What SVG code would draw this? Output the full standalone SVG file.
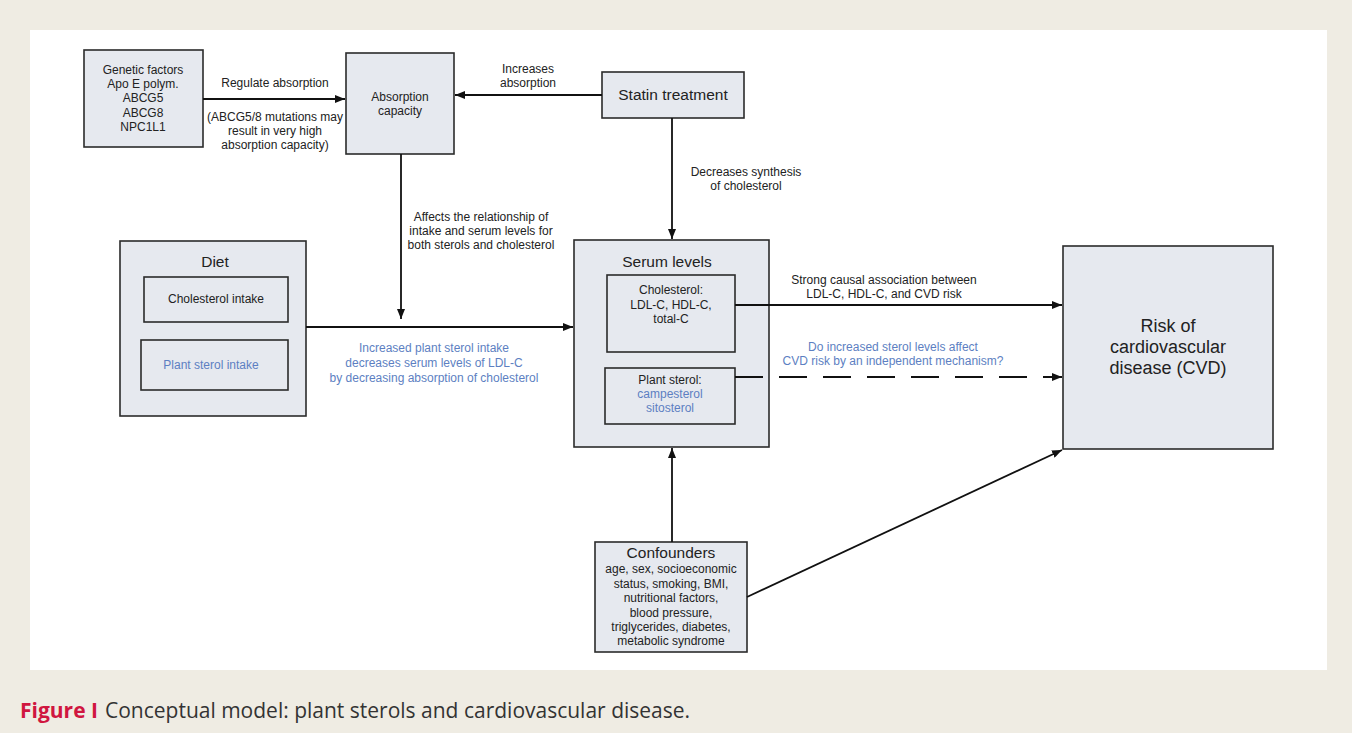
<svg xmlns="http://www.w3.org/2000/svg" width="1352" height="733" viewBox="0 0 1352 733">
<style>
.box{fill:#e6e9ef;stroke:#2b2b2b;stroke-width:1.6}
.t{font-family:"Liberation Sans",Arial,sans-serif;fill:#222;text-anchor:middle}
.s{font-size:12px}
.m{font-size:15.5px}
.b{fill:#5d7fc2}
.ln{stroke:#111;stroke-width:1.8;fill:none}
</style>
<defs>
<marker id="ah" markerWidth="10" markerHeight="8" refX="10" refY="4" orient="auto" markerUnits="userSpaceOnUse">
<path d="M0,0 L10,4 L0,8 Z" fill="#111"/>
</marker>
</defs>
<rect x="0" y="0" width="1352" height="733" fill="#efece3"/>
<rect x="30" y="30" width="1297" height="640" fill="#ffffff"/>

<g id="genetic">
<rect class="box" x="84" y="50" width="119" height="97"/>
<text class="t s" x="143" y="74">Genetic factors</text>
<text class="t s" x="143" y="88">Apo E polym.</text>
<text class="t s" x="143" y="102">ABCG5</text>
<text class="t s" x="143" y="117">ABCG8</text>
<text class="t s" x="143" y="131">NPC1L1</text>
</g>

<g id="absorption">
<rect class="box" x="346" y="53" width="108" height="101"/>
<text class="t s" x="400" y="101">Absorption</text>
<text class="t s" x="400" y="115">capacity</text>
</g>

<g id="statin">
<rect class="box" x="602" y="72" width="142" height="46"/>
<text class="t m" x="673" y="100">Statin treatment</text>
</g>

<g id="diet">
<rect class="box" x="120" y="241" width="186" height="175"/>
<text class="t m" x="215" y="267">Diet</text>
<rect class="box" x="144" y="277" width="144" height="45"/>
<text class="t s" x="216" y="303">Cholesterol intake</text>
<rect class="box" x="141" y="340" width="147" height="50"/>
<text class="t s b" x="211" y="369">Plant sterol intake</text>
</g>

<g id="serum">
<rect class="box" x="574" y="240" width="195" height="207"/>
<text class="t m" x="667" y="267">Serum levels</text>
<rect class="box" x="607" y="275" width="128" height="77"/>
<text class="t s" x="671" y="294">Cholesterol:</text>
<text class="t s" x="671" y="309">LDL-C, HDL-C,</text>
<text class="t s" x="671" y="323">total-C</text>
<rect class="box" x="605" y="368" width="130" height="56"/>
<text class="t s" x="670" y="384">Plant sterol:</text>
<text class="t s b" x="670" y="398">campesterol</text>
<text class="t s b" x="670" y="412">sitosterol</text>
</g>

<g id="risk">
<rect class="box" x="1063" y="246" width="210" height="203"/>
<text class="t" font-size="18" x="1168" y="332">Risk of</text>
<text class="t" font-size="18" x="1168" y="353">cardiovascular</text>
<text class="t" font-size="18" x="1168" y="374">disease (CVD)</text>
</g>

<g id="confounders">
<rect class="box" x="595" y="542" width="152" height="110"/>
<text class="t m" x="671" y="558">Confounders</text>
<text class="t s" x="671" y="573">age, sex, socioeconomic</text>
<text class="t s" x="671" y="588">status, smoking, BMI,</text>
<text class="t s" x="671" y="602">nutritional factors,</text>
<text class="t s" x="671" y="617">blood pressure,</text>
<text class="t s" x="671" y="631">triglycerides, diabetes,</text>
<text class="t s" x="671" y="645">metabolic syndrome</text>
</g>

<g id="connectors">
<line class="ln" x1="203" y1="99" x2="345" y2="99" marker-end="url(#ah)"/>
<line class="ln" x1="602" y1="95" x2="455" y2="95" marker-end="url(#ah)"/>
<line class="ln" x1="672" y1="118" x2="672" y2="239" marker-end="url(#ah)"/>
<line class="ln" x1="401" y1="154" x2="401" y2="319" marker-end="url(#ah)"/>
<line class="ln" x1="306" y1="327" x2="573" y2="327" marker-end="url(#ah)"/>
<line class="ln" x1="735" y1="305" x2="1062" y2="305" marker-end="url(#ah)"/>
<line class="ln" x1="735" y1="377" x2="1062" y2="377" stroke-dasharray="28,16" marker-end="url(#ah)"/>
<line class="ln" x1="672" y1="542" x2="672" y2="448" marker-end="url(#ah)"/>
<line class="ln" x1="747" y1="597" x2="1062" y2="450" marker-end="url(#ah)"/>
<text class="t s" x="275" y="87">Regulate absorption</text>
<text class="t s" x="275" y="121">(ABCG5/8 mutations may</text>
<text class="t s" x="275" y="135">result in very high</text>
<text class="t s" x="275" y="149">absorption capacity)</text>
<text class="t s" x="528" y="73">Increases</text>
<text class="t s" x="528" y="87">absorption</text>
<text class="t s" x="746" y="176">Decreases synthesis</text>
<text class="t s" x="746" y="190">of cholesterol</text>
<text class="t s" x="481" y="221">Affects the relationship of</text>
<text class="t s" x="481" y="235">intake and serum levels for</text>
<text class="t s" x="481" y="249">both sterols and cholesterol</text>
<text class="t s b" x="434" y="352">Increased plant sterol intake</text>
<text class="t s b" x="434" y="367">decreases serum levels of LDL-C</text>
<text class="t s b" x="434" y="382">by decreasing absorption of cholesterol</text>
<text class="t s" x="884" y="284">Strong causal association between</text>
<text class="t s" x="884" y="298">LDL-C, HDL-C, and CVD risk</text>
<text class="t s b" x="893" y="351">Do increased sterol levels affect</text>
<text class="t s b" x="893" y="365">CVD risk by an independent mechanism?</text>
</g>

<g id="caption">
<text x="20" y="718" font-family="'Open Sans',Lato,sans-serif" font-size="21"><tspan fill="#d0163f" font-weight="bold">Figure I</tspan><tspan fill="#333" dx="7">Conceptual model: plant sterols and cardiovascular disease.</tspan></text>
</g>
</svg>
